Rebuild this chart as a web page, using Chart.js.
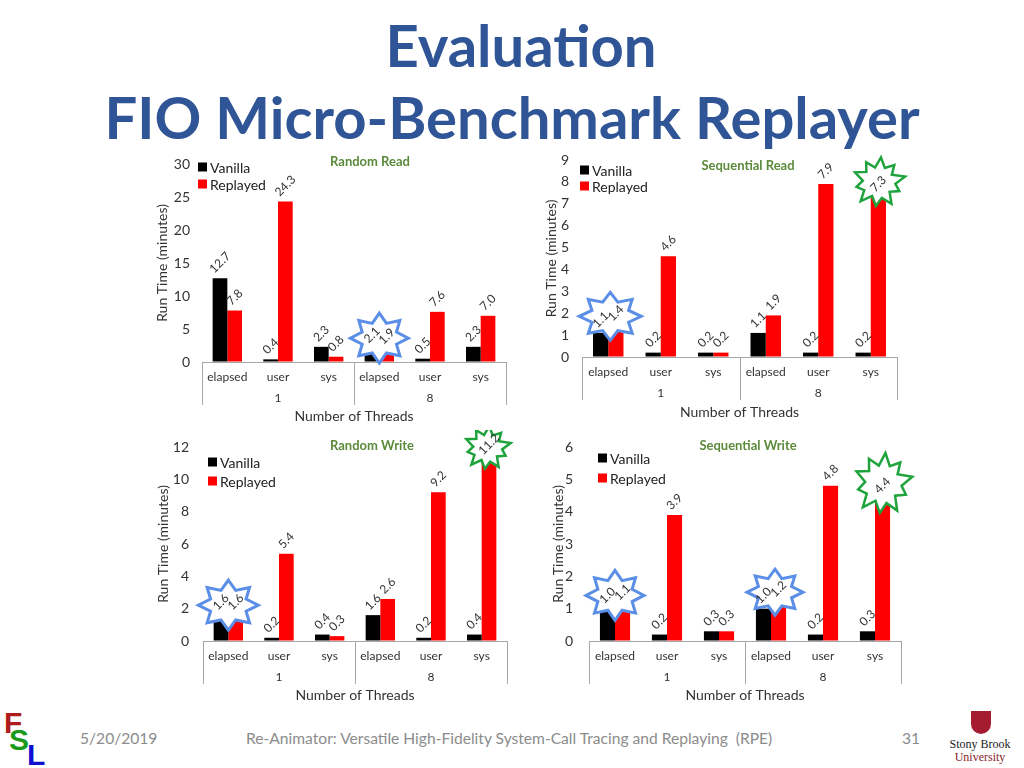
<!DOCTYPE html>
<html><head><meta charset="utf-8">
<script src="https://cdn.jsdelivr.net/npm/chart.js@4.4.0/dist/chart.umd.min.js"></script>
<style>
html,body{margin:0;padding:0;}
body{width:1024px;height:768px;background:#fff;position:relative;overflow:hidden;font-family:Lato,"Liberation Sans",sans-serif;}
canvas{position:absolute;}
.title{position:absolute;left:0;width:1024px;text-align:center;font-weight:bold;color:#2f5597;font-size:58px;line-height:60px;white-space:nowrap;}
.foot{position:absolute;color:#8c8c8c;font-size:15.6px;line-height:20px;white-space:nowrap;}
.fsl{position:absolute;font-family:"Liberation Sans",Arial,sans-serif;font-weight:bold;font-size:30px;line-height:30px;}
.sbu{position:absolute;font-family:"Liberation Serif","DejaVu Serif",serif;font-size:12px;line-height:13px;width:80px;text-align:center;}
</style></head>
<body>
<div class="title" style="top:15px;left:9px;">Evaluation</div>
<div class="title" style="top:87px;">FIO Micro-Benchmark Replayer</div>

<canvas id="c1" width="370" height="282" style="left:150px;top:148px;"></canvas>
<canvas id="c2" width="390" height="282" style="left:530px;top:148px;"></canvas>
<canvas id="c3" width="370" height="280" style="left:150px;top:430px;"></canvas>
<canvas id="c4" width="390" height="280" style="left:530px;top:430px;"></canvas>

<div class="fsl" style="left:4px;top:708px;color:#b01c1c;">F</div>
<div class="fsl" style="left:9px;top:725px;color:#1a9a1a;">S</div>
<div class="fsl" style="left:27px;top:740px;color:#1010d0;">L</div>
<div class="foot" style="left:80px;top:728px;">5/20/2019</div>
<div class="foot" style="left:246px;top:728px;">Re-Animator: Versatile High-Fidelity System-Call Tracing and Replaying&nbsp; (RPE)</div>
<div class="foot" style="left:902px;top:728px;">31</div>
<div style="position:absolute;left:971px;top:711px;width:20px;height:23px;background:#a51c30;border-radius:0 0 10px 10px;"></div>
<div class="sbu" style="left:940px;top:738px;color:#222;">Stony Brook</div>
<div class="sbu" style="left:940px;top:751px;color:#8a1c2c;">University</div>

<script>
// ---------- data ----------
const categories = ['elapsed', 'user', 'sys', 'elapsed', 'user', 'sys'];
const threadGroups = ['1', '8'];
const seriesNames = ['Vanilla', 'Replayed'];
const xAxisTitle = 'Number of Threads';
const yAxisTitle = 'Run Time (minutes)';

const randomReadVanilla   = [12.7, 0.4, 2.3, 2.1, 0.5, 2.3];
const randomReadReplayed  = [7.8, 24.3, 0.8, 1.9, 7.6, 7.0];
const seqReadVanilla      = [1.1, 0.2, 0.2, 1.1, 0.2, 0.2];
const seqReadReplayed     = [1.4, 4.6, 0.2, 1.9, 7.9, 7.3];
const randomWriteVanilla  = [1.6, 0.2, 0.4, 1.6, 0.2, 0.4];
const randomWriteReplayed = [1.6, 5.4, 0.3, 2.6, 9.2, 11.2];
const seqWriteVanilla     = [1.0, 0.2, 0.3, 1.0, 0.2, 0.3];
const seqWriteReplayed    = [1.1, 3.9, 0.3, 1.2, 4.8, 4.4];

const randomReadTicks  = [0, 30, 5];
const seqReadTicks     = [0, 9, 1];
const randomWriteTicks = [0, 12, 2];
const seqWriteTicks    = [0, 6, 1];

// ---------- drawing helpers ----------
const FONT = 'Lato, "Liberation Sans", sans-serif';
const SERIES_COLORS = ['#000000', '#ff0000'];

function starPath(ctx, cx, cy, rx, ry, radii, rot) {
  const n = radii.length;
  ctx.beginPath();
  for (let i = 0; i < n; i++) {
    const a = rot + i * 2 * Math.PI / n;
    const px = cx + Math.cos(a) * rx * radii[i];
    const py = cy + Math.sin(a) * ry * radii[i];
    if (i === 0) ctx.moveTo(px, py); else ctx.lineTo(px, py);
  }
  ctx.closePath();
}
const BLUE_STAR = [1, .64, 1, .64, 1, .64, 1, .64, 1, .64, 1, .64, 1, .64, 1, .64];
const BURST = [1, .62, .92, .6, 1.05, .66, .88, .58, 1.0, .64, .95, .6, 1.02, .63, .86, .6, 0.98, .62, .93, .6];

function makeDeco(cfg) {
  return {
    id: 'deco_' + cfg.name,
    afterDatasetsDraw(chart) {
      const ctx = chart.ctx;
      const ca = chart.chartArea;
      const m0 = chart.getDatasetMeta(0), m1 = chart.getDatasetMeta(1);
      ctx.save();
      // stars / bursts
      (cfg.stars || []).forEach(s => {
        const a = m0.data[s.index], b = m1.data[s.index];
        let cx, cy;
        if (s.type === 'blue') {
          cx = (a.x + b.x) / 2 + (s.dx || 0);
          cy = Math.min(a.y, b.y) - 10 + (s.dy || 0);
          starPath(ctx, cx, cy, s.rx, s.ry, BLUE_STAR, -Math.PI / 2);
          ctx.fillStyle = '#ffffff'; ctx.fill();
          ctx.lineWidth = 3; ctx.strokeStyle = '#5b8ee6'; ctx.stroke();
        } else {
          cx = b.x + (s.dx || 0);
          cy = b.y - 15 + (s.dy || 0);
          starPath(ctx, cx, cy, s.rx, s.ry, BURST, -Math.PI / 2 + 0.1);
          ctx.fillStyle = '#ffffff'; ctx.fill();
          ctx.lineWidth = 2.5; ctx.strokeStyle = '#1fa33c'; ctx.stroke();
        }
      });
      // value labels
      ctx.font = '12px ' + FONT;
      ctx.fillStyle = '#333333';
      ctx.textAlign = 'center';
      ctx.textBaseline = 'middle';
      [0, 1].forEach(di => {
        const meta = chart.getDatasetMeta(di);
        const vals = chart.data.datasets[di].data;
        meta.data.forEach((el, j) => {
          const t = vals[j].toFixed(1);
          const w = ctx.measureText(t).width;
          const cy = el.y - 3 - (w + 12) * 0.707 / 2;
          ctx.save();
          ctx.translate(el.x, cy);
          ctx.rotate(-Math.PI / 4);
          ctx.fillText(t, 0, 0);
          ctx.restore();
        });
      });
      // group separators and group labels
      ctx.strokeStyle = '#a6a6a6'; ctx.lineWidth = 1;
      const yb = ca.bottom + 43;
      for (let g = 0; g <= threadGroups.length; g++) {
        const x = Math.round(ca.left + (ca.right - ca.left) * g / threadGroups.length) + 0.5;
        ctx.beginPath(); ctx.moveTo(x, ca.bottom); ctx.lineTo(x, yb); ctx.stroke();
      }
      ctx.font = '12px ' + FONT; ctx.fillStyle = '#333333';
      ctx.textAlign = 'center'; ctx.textBaseline = 'middle';
      threadGroups.forEach((g, k) => {
        const x = ca.left + (ca.right - ca.left) * (k + 0.5) / threadGroups.length;
        ctx.fillText(g, x, ca.bottom + 36);
      });
      // legend
      const L = cfg.legend;
      ctx.font = '14px ' + FONT; ctx.textAlign = 'left';
      seriesNames.forEach((nm, k) => {
        const y = L.ys[k];
        ctx.fillStyle = SERIES_COLORS[k];
        ctx.fillRect(L.x, y - 4.5, 9, 9);
        ctx.fillStyle = '#222222';
        ctx.fillText(nm, L.x + 12, y + 1);
      });
      // chart title
      ctx.font = 'bold 13px ' + FONT; ctx.textAlign = 'center';
      ctx.fillStyle = '#5b8a3a';
      ctx.fillText(cfg.title, cfg.titlePos[0], cfg.titlePos[1]);
      ctx.restore();
    }
  };
}

function buildChart(cfg, vanilla, replayed, ticks) {
  const el = document.getElementById(cfg.id);
  return new Chart(el, {
    type: 'bar',
    data: {
      labels: categories,
      datasets: [
        { label: seriesNames[0], data: vanilla, backgroundColor: SERIES_COLORS[0], categoryPercentage: 0.58, barPercentage: 1 },
        { label: seriesNames[1], data: replayed, backgroundColor: SERIES_COLORS[1], categoryPercentage: 0.58, barPercentage: 1 }
      ]
    },
    options: {
      responsive: false, animation: false,
      layout: { padding: { top: cfg.padT, right: cfg.padR, bottom: 0, left: 0 } },
      plugins: { legend: { display: false }, tooltip: { enabled: false } },
      scales: {
        x: {
          grid: { display: false, drawTicks: false },
          border: { display: true, color: '#a6a6a6', width: 1 },
          ticks: { color: '#333', font: { family: FONT, size: 12 }, padding: 8, maxRotation: 0, autoSkip: false },
          title: { display: true, text: xAxisTitle, color: '#333', font: { family: FONT, size: 14 }, padding: { top: 0, bottom: cfg.xTitlePad } },
          afterFit(s) { s.height = cfg.xH; }
        },
        y: {
          min: ticks[0], max: ticks[1],
          grid: { display: true, color: 'rgba(0,0,0,0)', drawOnChartArea: false, drawTicks: true, tickLength: cfg.yTickPad },
          border: { display: false },
          ticks: { stepSize: ticks[2], color: '#333', font: { family: FONT, size: 14 }, padding: 0 },
          title: { display: true, text: yAxisTitle, color: '#333', font: { family: FONT, size: 14 }, padding: { top: cfg.yTitlePad, bottom: 0 } },
          afterFit(s) { s.width = cfg.yW; }
        }
      }
    },
    plugins: [makeDeco(cfg)]
  });
}

buildChart({ id: 'c1', name: 'rr', padT: 16, padR: 14, xH: 68, yW: 52, yTickPad: 12, yTitlePad: 4, xTitlePad: 5,
  legend: { x: 48, ys: [19, 36] }, title: 'Random Read', titlePos: [220, 14],
  stars: [{ type: 'blue', index: 3, rx: 29, ry: 25 }] },
  randomReadVanilla, randomReadReplayed, randomReadTicks);

buildChart({ id: 'c2', name: 'sr', padT: 12, padR: 23, xH: 73, yW: 52, yTickPad: 13, yTitlePad: 13, xTitlePad: 9,
  legend: { x: 50, ys: [22, 38] }, title: 'Sequential Read', titlePos: [218, 18],
  stars: [{ type: 'blue', index: 0, rx: 31, ry: 24, dx: 2 }, { type: 'burst', index: 5, rx: 26, ry: 25 }] },
  seqReadVanilla, seqReadReplayed, seqReadTicks);

buildChart({ id: 'c3', name: 'rw', padT: 17, padR: 13, xH: 69, yW: 53, yTickPad: 14, yTitlePad: 5, xTitlePad: 6,
  legend: { x: 58, ys: [32, 51] }, title: 'Random Write', titlePos: [222, 16],
  stars: [{ type: 'blue', index: 0, rx: 30, ry: 25 }, { type: 'burst', index: 5, rx: 23, ry: 22, dx: -2, dy: 3 }] },
  randomWriteVanilla, randomWriteReplayed, randomWriteTicks);

buildChart({ id: 'c4', name: 'sw', padT: 17, padR: 19, xH: 69, yW: 59, yTickPad: 16, yTitlePad: 20, xTitlePad: 6,
  legend: { x: 68, ys: [28, 48] }, title: 'Sequential Write', titlePos: [218, 16],
  stars: [{ type: 'blue', index: 0, rx: 29, ry: 25 }, { type: 'blue', index: 3, rx: 28, ry: 23, dx: 4 }, { type: 'burst', index: 5, rx: 29, ry: 31 }] },
  seqWriteVanilla, seqWriteReplayed, seqWriteTicks);
</script>
</body></html>
